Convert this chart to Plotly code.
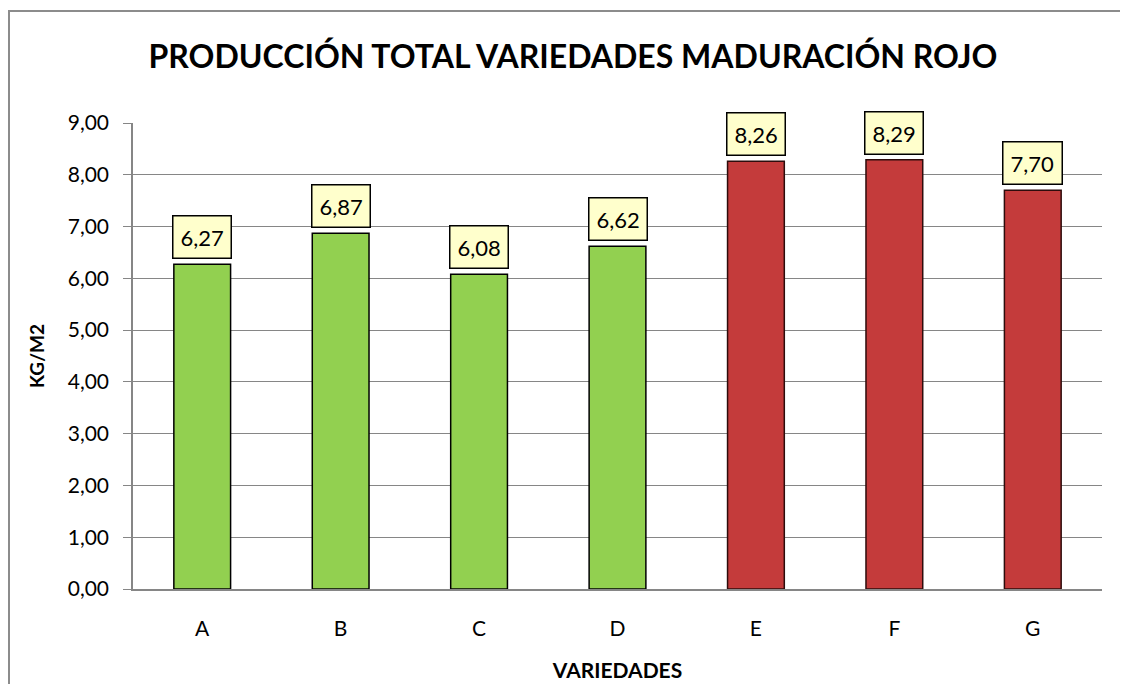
import plotly.graph_objects as go

categories = ["A", "B", "C", "D", "E", "F", "G"]
values = [6.27, 6.87, 6.08, 6.62, 8.26, 8.29, 7.70]
bar_colors = ["#92D050", "#92D050", "#92D050", "#92D050", "#C43B3B", "#C43B3B", "#C43B3B"]
line_colors = ["#000000"] * 4 + ["#2E0C0C"] * 3
label_texts = [f"{v:.2f}".replace(".", ",") for v in values]

title_text = "PRODUCCIÓN TOTAL VARIEDADES MADURACIÓN ROJO"
y_title = "KG/M2"
x_title = "VARIEDADES"

FONT = "Lato"
OFF = 8  # page body offset

fig = go.Figure()
fig.add_trace(go.Bar(
    x=categories, y=values,
    marker=dict(color=bar_colors, line=dict(color=line_colors, width=1.5)),
    width=0.41,
    hoverinfo="x+y",
))

for c, v, t in zip(categories, values, label_texts):
    fig.add_annotation(
        x=c, y=v, text=t, showarrow=False, yanchor="bottom", yshift=5,
        font=dict(family=FONT, size=22, color="#000000"),
        bgcolor="#FFFFCC", bordercolor="#000000", borderwidth=1.5, borderpad=7,
    )

L, R, T, B = 133 - OFF, 26 + OFF, 123 - OFF, 95 + OFF
W, H = 1128, 684
pw, ph = W - L - R, H - T - B

# outer chart border
fig.add_shape(type="rect", xref="paper", yref="paper",
              x0=(1 - L) / pw, x1=(1140 - L) / pw,
              y0=(H - B - 720) / ph, y1=(H - B - 3) / ph,
              line=dict(color="#8C8C8C", width=2), fillcolor="rgba(0,0,0,0)", layer="below")

fig.update_layout(
    width=W, height=H,
    margin=dict(l=L, r=R, t=T, b=B, autoexpand=False),
    paper_bgcolor="white", plot_bgcolor="white",
    separators=",.",
    showlegend=False,
    title=dict(text=f"<b>{title_text}</b>", x=(573 - OFF) / W, xref="container", xanchor="center",
               y=1 - (57 - OFF) / H, yanchor="middle",
               font=dict(family=FONT, size=32, color="#000000")),
    font=dict(family=FONT, size=21, color="#000000"),
)
fig.update_xaxes(
    showline=True, linecolor="#868686", linewidth=1.5,
    ticks="", showgrid=False,
    tickfont=dict(family=FONT, size=21),
    ticklabelstandoff=20,
    title=dict(text=f"<b>{x_title}</b>", font=dict(family=FONT, size=21), standoff=24),
)
fig.update_yaxes(
    range=[0, 9], dtick=1, tickformat=".2f",
    showline=True, linecolor="#868686", linewidth=1.5,
    ticks="outside", ticklen=8, tickcolor="#868686",
    showgrid=True, gridcolor="#868686", gridwidth=1,
    zeroline=False,
    tickfont=dict(family=FONT, size=21),
    ticklabelstandoff=10,
    title=dict(text=f"<b>{y_title}</b>", font=dict(family=FONT, size=19), standoff=18),
)

fig.write_html("out.html")
